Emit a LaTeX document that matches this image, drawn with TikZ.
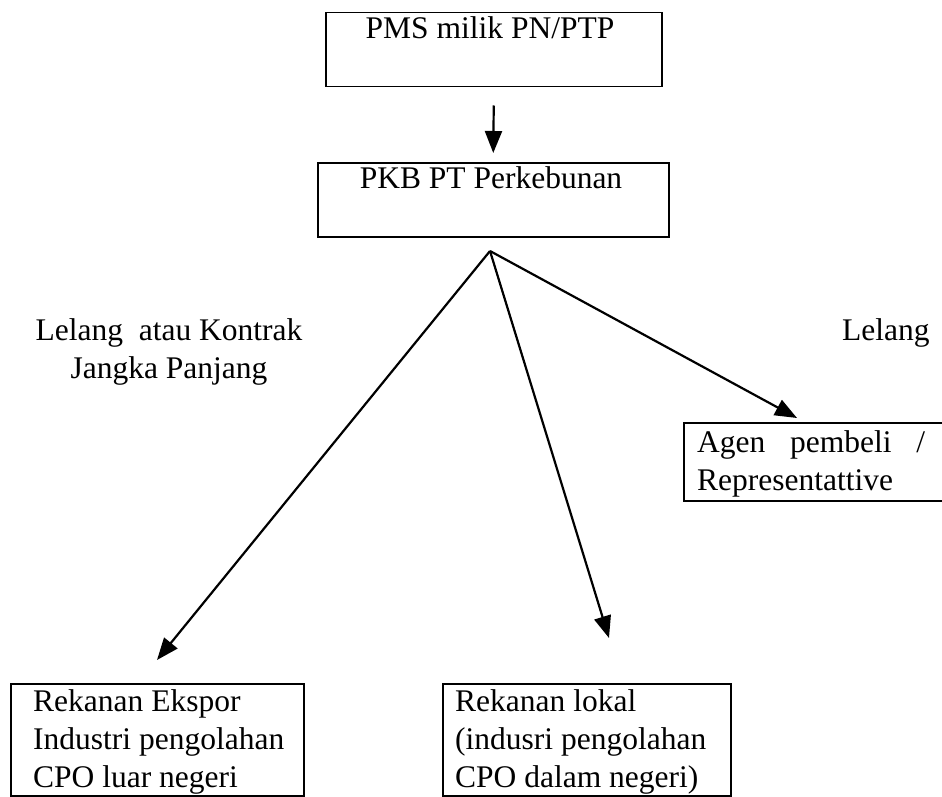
\documentclass[tikz,border=0pt]{standalone}
\usepackage{fontspec}
\setmainfont{Liberation Serif}
\usetikzlibrary{arrows.meta}
\begin{document}
\begin{tikzpicture}[x=1pt,y=-1pt,
  box/.style={draw, line width=1.5pt, inner sep=0pt},
  arr/.style={line width=2.2pt, -{Triangle[length=22pt,width=17pt]}},
  txt/.style={font=\fontsize{31.5}{38}\selectfont, inner sep=0pt}]
\useasboundingbox[fill=white] (0,0) rectangle (942,797);

% boxes
\node[box, minimum width=336pt, minimum height=74pt, anchor=north west] (pms) at (325,12) {};
\node[txt, anchor=base] (pmst) at (490,39) {PMS milik PN/PTP};

\node[box, minimum width=351pt, minimum height=74pt, anchor=north west] (pkb) at (317,162) {};
\node[txt, anchor=base] (pkbt) at (491,188) {PKB PT Perkebunan};

\node[box, minimum width=265pt, minimum height=78pt, anchor=north west] (agen) at (683,422) {};
\node[txt, anchor=north west, align=left] (agent) at (697,430) {\makebox[228pt][s]{Agen pembeli /}\\Representattive};

\node[box, minimum width=293pt, minimum height=112pt, anchor=north west] (eks) at (10,683) {};
\node[txt, anchor=north west, align=left] (ekst) at (33,689) {Rekanan Ekspor\\Industri pengolahan\\CPO luar negeri};

\node[box, minimum width=288pt, minimum height=112pt, anchor=north west] (lok) at (442,683) {};
\node[txt, anchor=north west, align=left] (lokt) at (455,689) {Rekanan lokal\\(indusri pengolahan\\CPO dalam negeri)};

% labels
\node[txt, align=center, anchor=north] (lblL) at (169,318) {Lelang~ atau Kontrak\\Jangka Panjang};
\node[txt, anchor=base west] (lblR) at (842,340) {Lelang};

% connectors
\coordinate (apex) at (490,251);
\coordinate (tipL) at (157,660);
\coordinate (tipM) at (609,638);
\coordinate (tipR) at (797,418);

\draw[arr] ([yshift=-18pt]pms.south) -- ([yshift=9pt]pkb.north);
\draw[arr] (apex) -- (tipL);
\draw[arr] (apex) -- (tipM);
\draw[arr] (apex) -- (tipR);
\end{tikzpicture}
\end{document}
